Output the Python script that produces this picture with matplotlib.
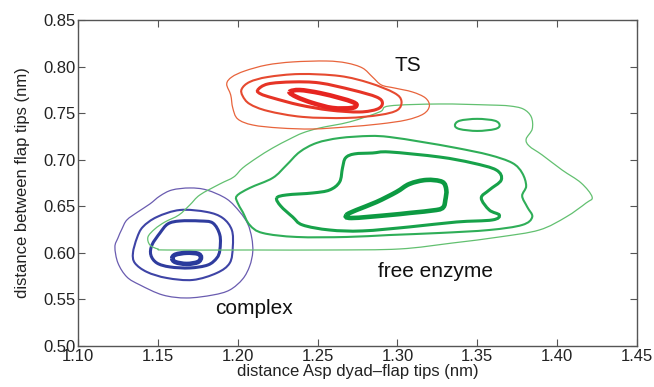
import numpy as np
import matplotlib.pyplot as plt
from matplotlib.path import Path
from matplotlib.patches import PathPatch

plt.rcParams['font.family'] = ['Liberation Sans', 'DejaVu Sans']

# axis ticks
x_ticks = [1.10, 1.15, 1.20, 1.25, 1.30, 1.35, 1.40, 1.45]
y_ticks = [0.50, 0.55, 0.60, 0.65, 0.70, 0.75, 0.80, 0.85]

# contour lines, (distance Asp dyad-flap tips, distance between flap tips) in nm
# outermost level first

# TS
ts_level1 = [(1.1931, 0.7815), (1.1963, 0.7890), (1.2044, 0.7955), (1.2181, 0.8019), (1.2344, 0.8052),
             (1.2556, 0.8062), (1.2681, 0.8041), (1.2781, 0.7987), (1.2844, 0.7890), (1.2900, 0.7804),
             (1.2981, 0.7772), (1.3094, 0.7729), (1.3175, 0.7665), (1.3200, 0.7579), (1.3163, 0.7493),
             (1.3056, 0.7428), (1.2888, 0.7385), (1.2681, 0.7353), (1.2469, 0.7331), (1.2263, 0.7342),
             (1.2094, 0.7374), (1.2000, 0.7439), (1.1969, 0.7557), (1.1956, 0.7697)]
ts_level2 = [(1.2025, 0.7761), (1.2075, 0.7837), (1.2188, 0.7890), (1.2388, 0.7922), (1.2638, 0.7901),
             (1.2825, 0.7826), (1.2981, 0.7718), (1.3025, 0.7632), (1.3000, 0.7535), (1.2888, 0.7482),
             (1.2681, 0.7450), (1.2406, 0.7461), (1.2188, 0.7525), (1.2075, 0.7600), (1.2031, 0.7686)]
ts_level3 = [(1.2125, 0.7750), (1.2188, 0.7815), (1.2344, 0.7837), (1.2513, 0.7826), (1.2719, 0.7750),
             (1.2869, 0.7675), (1.2906, 0.7611), (1.2875, 0.7546), (1.2763, 0.7514), (1.2575, 0.7535),
             (1.2388, 0.7589), (1.2219, 0.7665), (1.2144, 0.7708)]
ts_level4 = [(1.2325, 0.7729), (1.2388, 0.7750), (1.2513, 0.7718), (1.2638, 0.7665), (1.2719, 0.7622),
             (1.2744, 0.7589), (1.2713, 0.7557), (1.2594, 0.7557), (1.2469, 0.7611), (1.2369, 0.7675)]

# free enzyme
free_level1 = [(1.1556, 0.6030), (1.2075, 0.6030), (1.2575, 0.6030), (1.3013, 0.6041), (1.3344, 0.6105),
               (1.3638, 0.6170), (1.3888, 0.6245), (1.4056, 0.6385), (1.4181, 0.6535), (1.4219, 0.6600),
               (1.4150, 0.6751), (1.4031, 0.6890), (1.3906, 0.7052), (1.3825, 0.7148), (1.3806, 0.7223),
               (1.3844, 0.7331), (1.3838, 0.7461), (1.3788, 0.7546), (1.3700, 0.7579), (1.3575, 0.7589),
               (1.3263, 0.7600), (1.2950, 0.7579), (1.2888, 0.7514), (1.2700, 0.7407), (1.2513, 0.7342),
               (1.2406, 0.7288), (1.2325, 0.7223), (1.2219, 0.7127), (1.2119, 0.7020), (1.2031, 0.6912),
               (1.1975, 0.6815), (1.1888, 0.6740), (1.1763, 0.6622), (1.1700, 0.6514), (1.1631, 0.6406),
               (1.1544, 0.6331), (1.1481, 0.6256), (1.1438, 0.6170), (1.1450, 0.6084), (1.1500, 0.6041)]
free_island = [(1.336, 0.737), (1.339, 0.742), (1.350, 0.744), (1.361, 0.742), (1.364, 0.737),
               (1.361, 0.733), (1.350, 0.731), (1.339, 0.733)]
free_level2 = [(1.1994, 0.6611), (1.2075, 0.6697), (1.2219, 0.6805), (1.2306, 0.6944), (1.2388, 0.7084),
               (1.2494, 0.7181), (1.2638, 0.7234), (1.2825, 0.7256), (1.2950, 0.7245), (1.3156, 0.7191),
               (1.3369, 0.7127), (1.3575, 0.7052), (1.3719, 0.6966), (1.3781, 0.6858), (1.3806, 0.6718),
               (1.3781, 0.6611), (1.3813, 0.6492), (1.3844, 0.6385), (1.3781, 0.6299), (1.3575, 0.6245),
               (1.3263, 0.6213), (1.2950, 0.6191), (1.2681, 0.6170), (1.2369, 0.6170), (1.2156, 0.6213),
               (1.2075, 0.6299), (1.2031, 0.6439), (1.2000, 0.6535)]
free_level3 = [(1.2244, 0.6589), (1.2306, 0.6622), (1.2469, 0.6643), (1.2575, 0.6675), (1.2638, 0.6762),
               (1.2656, 0.6912), (1.2675, 0.7020), (1.2731, 0.7063), (1.2844, 0.7073), (1.2950, 0.7084),
               (1.3263, 0.7030), (1.3469, 0.6966), (1.3619, 0.6890), (1.3650, 0.6783), (1.3575, 0.6675),
               (1.3525, 0.6589), (1.3575, 0.6460), (1.3638, 0.6406), (1.3594, 0.6353), (1.3369, 0.6331),
               (1.3075, 0.6278), (1.2781, 0.6235), (1.2575, 0.6245), (1.2406, 0.6299), (1.2344, 0.6385),
               (1.2269, 0.6503)]
free_level4 = [(1.2681, 0.6406), (1.2744, 0.6460), (1.2869, 0.6546), (1.2994, 0.6654), (1.3075, 0.6740),
               (1.3181, 0.6783), (1.3281, 0.6762), (1.3306, 0.6675), (1.3300, 0.6568), (1.3288, 0.6492),
               (1.3244, 0.6460), (1.3075, 0.6428), (1.2950, 0.6406), (1.2713, 0.6374)]

# complex
cplx_level1 = [(1.1231, 0.6062), (1.1250, 0.6159), (1.1275, 0.6256), (1.1306, 0.6353), (1.1375, 0.6440),
               (1.1450, 0.6525), (1.1513, 0.6611), (1.1588, 0.6675), (1.1700, 0.6697), (1.1806, 0.6675),
               (1.1931, 0.6579), (1.2013, 0.6439), (1.2063, 0.6310), (1.2088, 0.6159), (1.2094, 0.6009),
               (1.2075, 0.5858), (1.2031, 0.5718), (1.1950, 0.5600), (1.1844, 0.5546), (1.1681, 0.5514),
               (1.1531, 0.5546), (1.1388, 0.5654), (1.1306, 0.5740), (1.1250, 0.5890)]
cplx_level2 = [(1.1344, 0.5998), (1.1369, 0.6159), (1.1406, 0.6278), (1.1494, 0.6385), (1.1638, 0.6460),
               (1.1806, 0.6439), (1.1906, 0.6374), (1.1963, 0.6245), (1.1969, 0.6062), (1.1950, 0.5890),
               (1.1869, 0.5783), (1.1719, 0.5708), (1.1556, 0.5729), (1.1431, 0.5794), (1.1356, 0.5890)]
cplx_level3 = [(1.1456, 0.5976), (1.1463, 0.6084), (1.1513, 0.6213), (1.1563, 0.6311), (1.1638, 0.6342),
               (1.1763, 0.6342), (1.1844, 0.6320), (1.1888, 0.6191), (1.1888, 0.6030), (1.1869, 0.5944),
               (1.1813, 0.5869), (1.1700, 0.5837), (1.1575, 0.5848), (1.1494, 0.5890)]
cplx_level4 = [(1.159, 0.594), (1.161, 0.598), (1.168, 0.600), (1.175, 0.599), (1.177, 0.595),
               (1.175, 0.590), (1.168, 0.588), (1.161, 0.590)]


def closed_curve(points):
    # smooth closed curve through the traced points (Catmull-Rom as cubic Bezier)
    p = np.asarray(points, dtype=float)
    n = len(p)
    verts = [p[0]]
    codes = [Path.MOVETO]
    for i in range(n):
        p0, p1, p2, p3 = p[i - 1], p[i], p[(i + 1) % n], p[(i + 2) % n]
        verts += [p1 + (p2 - p0) / 6, p2 - (p3 - p1) / 6, p2]
        codes += [Path.CURVE4] * 3
    return Path(verts, codes)


fig = plt.figure(figsize=(6.54, 3.87), dpi=100)
ax = fig.add_axes([0.1193, 0.1065, 0.8547, 0.8411])

widths = [0.9, 1.5, 2.2, 3.3]

blue = ['#6a5cb0', '#3e44a6', '#2f3c9e', '#2a3a9c']
for lev, pts in enumerate([cplx_level1, cplx_level2, cplx_level3, cplx_level4]):
    ax.add_patch(PathPatch(closed_curve(pts), fill=False, ec=blue[lev], lw=widths[lev]))

green = ['#62c070', '#2fae58', '#17a24a', '#0c9a42']
ax.add_patch(PathPatch(closed_curve(free_island), fill=False, ec=green[1], lw=widths[1]))
for lev, pts in enumerate([free_level1, free_level2, free_level3, free_level4]):
    ax.add_patch(PathPatch(closed_curve(pts), fill=False, ec=green[lev], lw=widths[lev]))

red = ['#e8643c', '#e64a30', '#e63426', '#e62420']
for lev, pts in enumerate([ts_level1, ts_level2, ts_level3, ts_level4]):
    ax.add_patch(PathPatch(closed_curve(pts), fill=False, ec=red[lev], lw=widths[lev]))

ax.text(1.3063, 0.8009, 'TS', fontsize=15, ha='center', va='center', color='#111111')
ax.text(1.3238, 0.5800, 'free enzyme', fontsize=15, ha='center', va='center', color='#111111')
ax.text(1.2099, 0.5400, 'complex', fontsize=15, ha='center', va='center', color='#111111')

ax.set_xlim(1.10, 1.45)
ax.set_ylim(0.50, 0.85)
ax.set_xticks(x_ticks)
ax.set_xticklabels(['%.2f' % v for v in x_ticks])
ax.set_yticks(y_ticks)
ax.set_yticklabels(['%.2f' % v for v in y_ticks])
ax.tick_params(direction='in', top=True, right=True, length=5, width=0.8,
               color='#555555', labelsize=12, labelcolor='#222222', pad=2)
for s in ax.spines.values():
    s.set_color('#555555')
    s.set_linewidth(1.0)

ax.set_xlabel('distance Asp dyad\u2013flap tips (nm)', fontsize=12, color='#222222', labelpad=0)
ax.set_ylabel('distance between flap tips (nm)', fontsize=12, color='#222222', labelpad=9)

plt.savefig('out.png', dpi=100)
